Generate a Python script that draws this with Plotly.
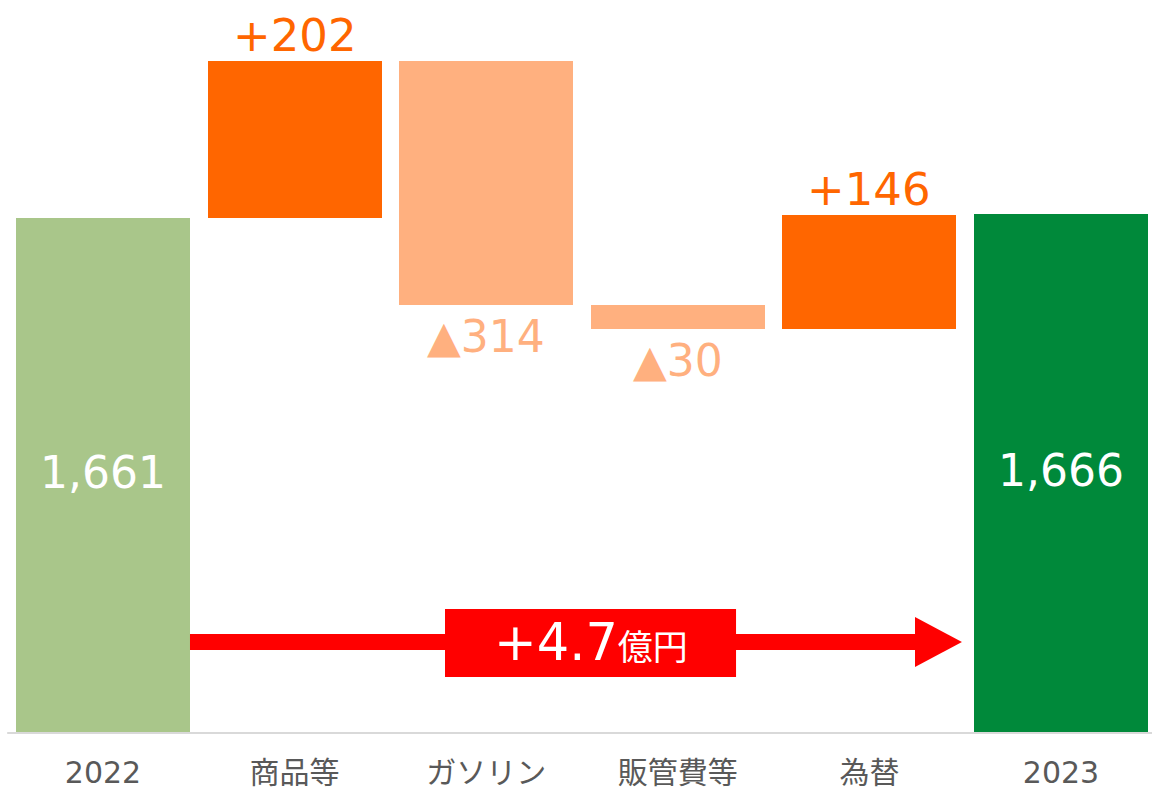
import plotly.graph_objects as go

# ---- data ----
categories = ["2022", "商品等", "ガソリン", "販管費等", "為替", "2023"]
start_value = 1661
deltas = [202, -314, -30, 146]
end_value = 1666
delta_labels = ["+202", "▲314", "▲30", "+146"]
total_labels = ["1,661", "1,666"]
change_value_label = "+4.7"
change_unit_label = "億円"
axis_min = 1000
axis_max = 1941

# ---- styles ----
C_START = "#A9C68A"
C_END = "#00893A"
C_UP = "#FF6600"
C_DOWN = "#FFB07F"
C_RED = "#FF0000"
FONT = "DejaVu Sans, Verdana, Noto Sans CJK JP, sans-serif"

# build bar geometry from data
bases = [0]
heights = [start_value]
colors = [C_START]
running = start_value
for d in deltas:
    if d >= 0:
        bases.append(running)
        heights.append(d)
        colors.append(C_UP)
    else:
        bases.append(running + d)
        heights.append(-d)
        colors.append(C_DOWN)
    running += d
bases.append(0)
heights.append(end_value)
colors.append(C_END)

bar_width = 0.908

fig = go.Figure()
fig.add_trace(go.Bar(
    x=categories, y=heights, base=bases,
    marker=dict(color=colors, line=dict(width=0)),
    width=bar_width, hoverinfo="skip", showlegend=False,
))

annotations = []
# total labels inside the bars (use category index to avoid numeric-string ambiguity)
for idx, val, lab in [(0, start_value, total_labels[0]), (len(categories) - 1, end_value, total_labels[1])]:
    annotations.append(dict(
        x=idx, y=(axis_min + val) / 2, xref="x", yref="y",
        text=lab, showarrow=False, font=dict(size=44, color="white", family=FONT),
        xanchor="center", yanchor="middle", yshift=3,
    ))

# delta labels
for i, d in enumerate(deltas):
    idx = i + 1
    if d >= 0:
        annotations.append(dict(
            x=idx, y=bases[idx] + heights[idx], xref="x", yref="y",
            text=delta_labels[i], showarrow=False,
            font=dict(size=45, color=C_UP, family=FONT),
            xanchor="center", yanchor="bottom", yshift=-3,
        ))
    else:
        annotations.append(dict(
            x=idx, y=bases[idx], xref="x", yref="y",
            text=delta_labels[i], showarrow=False,
            font=dict(size=44, color=C_DOWN, family=FONT),
            xanchor="center", yanchor="top", yshift=-4,
        ))

# change label in the red box
box_x0, box_x1 = 1.785, 3.304
annotations.append(dict(
    x=(box_x0 + box_x1) / 2, y=0.124, xref="x", yref="paper",
    text=f"{change_value_label}<span style='font-size:35px'>{change_unit_label}</span>",
    showarrow=False, font=dict(size=51, color="white", family=FONT),
    xanchor="center", yanchor="middle",
))

shapes = []
# baseline
shapes.append(dict(type="line", xref="x", yref="paper", x0=-0.5, x1=5.6, y0=0, y1=0,
                   line=dict(color="#D9D9D9", width=2), layer="above"))
# arrow shaft
shaft_x0 = 0 + bar_width / 2
head_base = 4.238
head_tip = 4.483
shapes.append(dict(type="rect", xref="x", yref="paper", x0=shaft_x0, x1=head_base + 0.01,
                   y0=0.1132, y1=0.1351, fillcolor=C_RED, line=dict(width=0)))
# arrow head
shapes.append(dict(type="path", xref="x", yref="paper",
                   path=f"M {head_base},0.0900 L {head_tip},0.1241 L {head_base},0.1582 Z",
                   fillcolor=C_RED, line=dict(width=0)))
# red box
shapes.append(dict(type="rect", xref="x", yref="paper", x0=box_x0, x1=box_x1,
                   y0=0.0764, y1=0.1692, fillcolor=C_RED, line=dict(width=0)))

fig.update_layout(
    width=1152, height=800,
    margin=dict(l=0, r=0, t=0, b=67, pad=0),
    plot_bgcolor="white", paper_bgcolor="white",
    bargap=0,
    xaxis=dict(type="category", range=[-0.5376, 5.475], showgrid=False, zeroline=False,
               showline=False, ticks="", tickfont=dict(size=30, color="#595959", family=FONT),
               ticklabelstandoff=19, fixedrange=True),
    yaxis=dict(range=[axis_min, axis_max], visible=False, fixedrange=True),
    annotations=annotations,
    shapes=shapes,
    font=dict(family=FONT),
)

fig.write_html("out.html", config={"displayModeBar": False},
               post_script="document.body.style.margin='0';document.body.style.padding='0';")
